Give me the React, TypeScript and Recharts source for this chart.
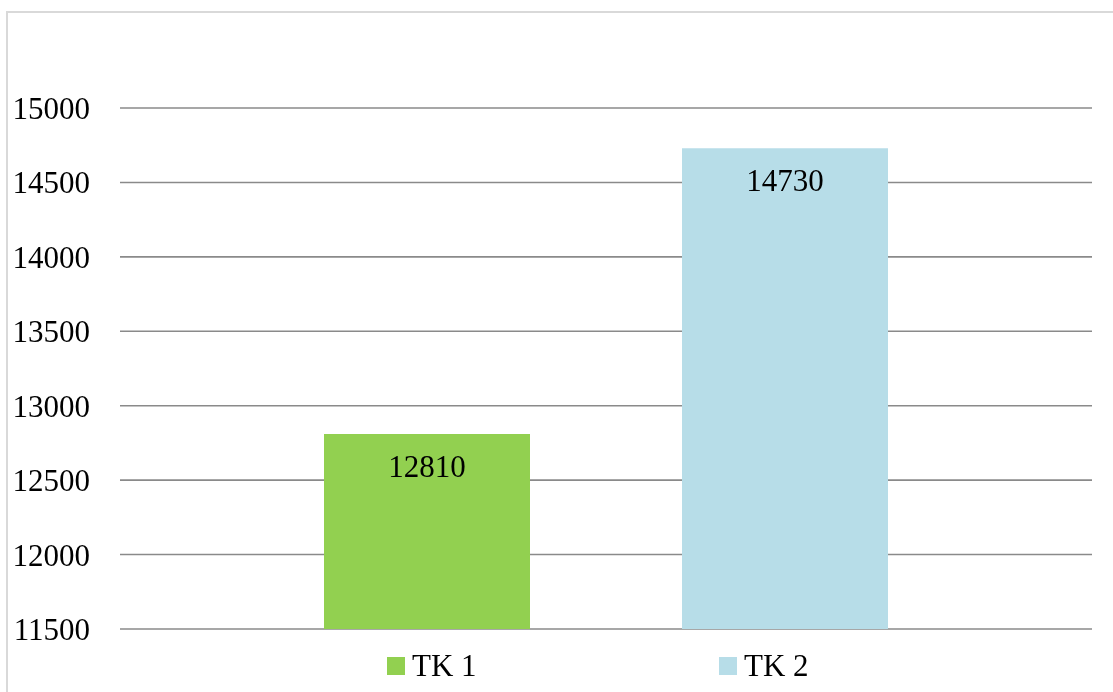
import React from 'react'
import { BarChart, Bar, XAxis, YAxis, CartesianGrid, Legend, LabelList } from 'recharts'

const categories = ['']
const seriesNames = ['TK 1', 'TK 2']
const tk1Values = [12810]
const tk2Values = [14730]
const yTicks = [11500, 12000, 12500, 13000, 13500, 14000, 14500, 15000]

const colors = ['#92d050', '#b7dde8']
const fontFamily = "'Times New Roman', 'Liberation Serif', serif"

const data = categories.map((name, i) => ({
  name,
  tk1: tk1Values[i],
  tk2: tk2Values[i],
}))

function ChartLegend() {
  const lefts = [379, 711]
  return (
    <div style={{ position: 'relative', height: 40, fontFamily }}>
      {seriesNames.map((label, i) => (
        <div
          key={label}
          style={{
            position: 'absolute',
            left: lefts[i],
            top: 0,
            display: 'flex',
            alignItems: 'center',
            height: 40,
          }}
        >
          <span style={{ width: 18, height: 18, background: colors[i], display: 'inline-block', marginRight: 7 }} />
          <span style={{ fontSize: 31, color: '#000', lineHeight: '40px' }}>{label}</span>
        </div>
      ))}
    </div>
  )
}

export default function App() {
  return (
    <div>
      <div
        style={{
          position: 'fixed',
          left: 6,
          top: 11,
          width: 1200,
          height: 800,
          border: '2px solid #d9d9d9',
        }}
      />
      <div style={{ position: 'relative' }}>
        <BarChart
          width={1105}
          height={684}
          data={data}
          margin={{ top: 100, right: 21, bottom: 23, left: 0 }}
          barSize={206}
          barGap={152}
        >
          <CartesianGrid vertical={false} stroke="#8a8a8a" strokeWidth={1.6} />
          <XAxis dataKey="name" hide />
          <YAxis
            width={112}
            domain={[11500, 15000]}
            ticks={yTicks}
            axisLine={false}
            tickLine={false}
            tickMargin={24}
            tick={{ fill: '#000', fontSize: 31, fontFamily }}
          />
          <Legend
            content={<ChartLegend />}
            wrapperStyle={{ position: 'absolute', left: 0, top: 638, width: 1105, height: 40 }}
          />
          <Bar dataKey="tk1" name={seriesNames[0]} fill={colors[0]} isAnimationActive={false}>
            <LabelList dataKey="tk1" position="insideTop" offset={21} fill="#000" fontSize={31} fontFamily={fontFamily} />
          </Bar>
          <Bar dataKey="tk2" name={seriesNames[1]} fill={colors[1]} isAnimationActive={false}>
            <LabelList dataKey="tk2" position="insideTop" offset={21} fill="#000" fontSize={31} fontFamily={fontFamily} />
          </Bar>
        </BarChart>
      </div>
    </div>
  )
}
